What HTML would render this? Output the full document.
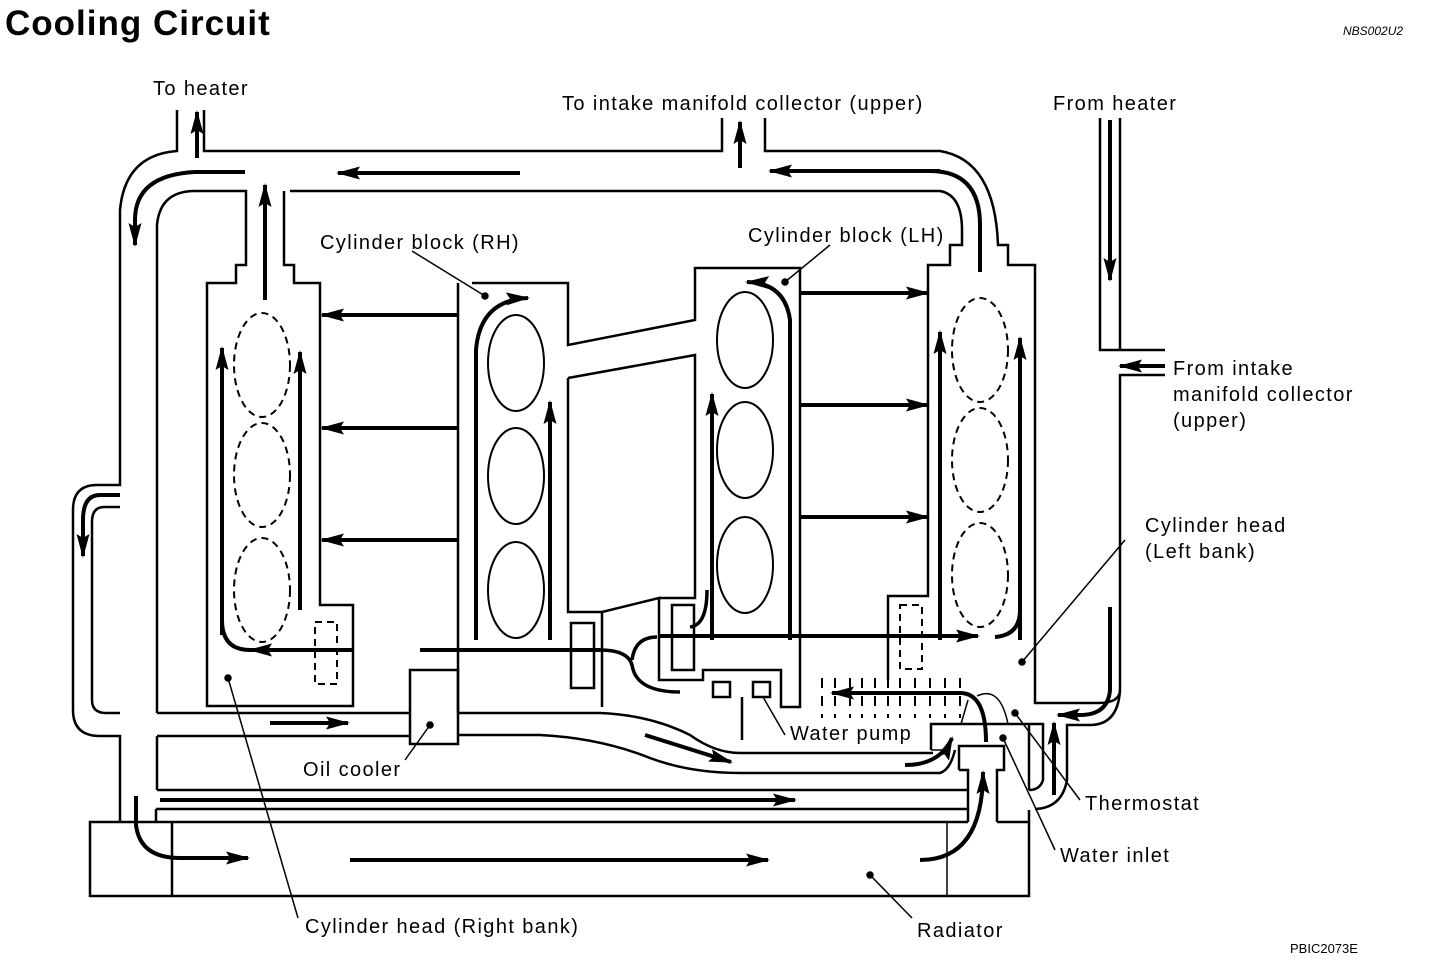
<!DOCTYPE html>
<html><head><meta charset="utf-8"><style>
html,body{margin:0;padding:0;background:#fff;}
svg{display:block;font-family:"Liberation Sans",sans-serif;}
text{font-size:20px;letter-spacing:1.4px;fill:#000;}
</style></head><body>
<svg width="1440" height="980" viewBox="0 0 1440 980" xmlns="http://www.w3.org/2000/svg">
<defs>
<marker id="a" markerWidth="24" markerHeight="13" refX="22" refY="6.5" orient="auto" markerUnits="userSpaceOnUse"><path d="M0,0 L24,6.5 L0,13 L4,6.5 z" fill="#000"/></marker>
</defs>
<text x="5" y="35" style="font-size:35px;font-weight:bold;letter-spacing:1px">Cooling Circuit</text>
<text x="1343" y="35" style="font-size:12px;font-style:italic;letter-spacing:0">NBS002U2</text>
<text x="1290" y="953" style="font-size:13px;letter-spacing:0">PBIC2073E</text>

<g fill="none" stroke="#000" stroke-width="2.5">
<path d="M177,110 V151 Q125,155 120,210 V485 H97 Q73,485 73,510 V710 Q73,736 100,736 H120 V822"/>
<path d="M120,507 H104 Q92,507 92,522 V700 Q92,713 106,713 H120"/>
<path d="M204,110 V151 H722 V118"/>
<path d="M765,118 V151 H940 Q995,160 998,245 H1008 V265 H1035 V703 H1098 Q1120,703 1120,690 V375 H1165"/>
<path d="M1100,118 V350 H1165 M1120,118 V350"/>
<path d="M157,713 V225 Q160,191 195,191 H246 V265 H236 V283 H207 V706 H353 V605 H320 V283 H294 V265 H284 V191"/>
<path d="M290,191 H940 Q962,195 962,230 V245 H950 V265 H928 V596 H888 V680"/>
<path d="M458,283 V713 M472,283 H568 V345 L695,320 V268 H800 V707 H781 V670 H703 V680 H659 V598 L602,612 V707"/>
<path d="M568,378 L695,355 V598 H659"/>
<path d="M568,378 V612 H602"/>
<path d="M157,713 H410 M157,736 H410 M157,736 V790"/>
<path d="M458,713 H600 Q650,715 690,735 Q715,753 740,753 H933"/>
<path d="M458,735 H540 Q600,738 650,758 Q690,773 740,773 H940 Q950,770 955,750"/>
<path d="M157,790 H968 M156,809 H968 M156,809 V822"/>
<rect x="410" y="670" width="48" height="74"/>
<path d="M968,822 H90 V896 H1029 V810"/>
<path d="M997,822 H1029"/>
<path d="M172,822 V896"/>
<path d="M947,822 V896" stroke-width="1.5"/>
<path d="M931,750 V724 H1029 V790 M1029,724 H1043 V780 Q1040,790 1029,790"/>
<path d="M1120,690 Q1118,725 1090,725 H1067 V780 Q1062,808 1035,809"/>
<path d="M959,770 V746 H1004 V770 H997 V822 M959,770 H968 V822"/>
<path d="M931,750 H945" stroke-width="1.5"/>
<path d="M977,696 Q1000,685 1008,724" stroke-width="1.5"/>
<path d="M961,724 L968,700" stroke-width="1.5"/>
<rect x="571" y="623" width="23" height="65"/>
<rect x="672" y="605" width="22" height="65"/>
<rect x="713" y="682" width="17" height="15"/>
<rect x="753" y="682" width="17" height="15"/>
<path d="M742,697 V740"/>
</g>
<g fill="none" stroke="#000" stroke-width="3.5">
<path d="M600,650 Q628,650 632,665 Q636,692 680,692"/>
<path d="M657,637 Q635,637 632,660"/>
<path d="M707,590 Q707,625 690,627"/>
</g>
<g fill="none" stroke="#000" stroke-width="2" stroke-dasharray="7,5">
<rect x="315" y="622" width="22" height="62"/>
<rect x="900" y="605" width="22" height="64"/>
<ellipse cx="262" cy="365" rx="28" ry="52"/><ellipse cx="262" cy="475" rx="28" ry="52"/><ellipse cx="262" cy="590" rx="28" ry="52"/>
<ellipse cx="980" cy="350" rx="28" ry="52"/><ellipse cx="980" cy="460" rx="28" ry="52"/><ellipse cx="980" cy="575" rx="28" ry="52"/>
<path d="M822,678 V718 M835,678 V718 M850,678 V718 M862,678 V718 M875,678 V718 M888,678 V718 M900,678 V718 M915,678 V718 M930,678 V718 M945,678 V718 M960,678 V718" stroke-dasharray="10,8"/>
</g>
<g fill="none" stroke="#000" stroke-width="2">
<ellipse cx="516" cy="363" rx="28" ry="48"/><ellipse cx="516" cy="476" rx="28" ry="48"/><ellipse cx="516" cy="590" rx="28" ry="48"/>
<ellipse cx="745" cy="340" rx="28" ry="48"/><ellipse cx="745" cy="450" rx="28" ry="48"/><ellipse cx="745" cy="565" rx="28" ry="48"/>
</g>
<g fill="none" stroke="#000" stroke-width="4" marker-end="url(#a)">
<path d="M197,158 V112"/>
<path d="M740,168 V122"/>
<path d="M265,300 V185"/>
<path d="M520,173 H338"/>
<path d="M980,272 V225 Q980,171 930,171" marker-end="none"/>
<path d="M940,171 H770"/>
<path d="M245,172 H195 Q135,175 135,220 V245"/>
<path d="M1110,120 V280"/>
<path d="M1165,366 H1120"/>
<path d="M458,315 H322"/>
<path d="M458,428 H322"/>
<path d="M458,540 H322"/>
<path d="M800,293 H928"/>
<path d="M800,405 H928"/>
<path d="M800,517 H928"/>
<path d="M222,635 V348"/>
<path d="M300,610 V352"/>
<path d="M940,640 V332"/>
<path d="M1020,640 V338"/>
<path d="M550,640 V402"/>
<path d="M712,640 V394"/>
<path d="M476,640 V350 Q480,300 528,298"/>
<path d="M790,640 V320 Q785,283 747,282"/>
<path d="M1020,610 Q1020,635 995,637" marker-end="none"/>
<path d="M222,620 Q222,650 250,650" marker-end="none"/>
<path d="M352,650 H250"/>
<path d="M600,650 H420" marker-end="none"/>
<path d="M660,636 H978"/>
<path d="M986,742 Q986,693 960,693 H832"/>
<path d="M270,723 H348"/>
<path d="M645,735 L731,762"/>
<path d="M905,765 Q940,765 952,738"/>
<path d="M160,800 H795"/>
<path d="M136,796 V825 Q140,858 180,858 H248"/>
<path d="M350,860 H768"/>
<path d="M920,860 Q983,860 983,772"/>
<path d="M1054,795 V723"/>
<path d="M1110,607 V690 Q1108,715 1080,715 H1058"/>
<path d="M120,495 H100 Q83,495 83,520 V556"/>
</g>
<g stroke="#000" stroke-width="1.5" fill="#000">
<path d="M412,251 L485,296"/><circle cx="485" cy="296" r="3"/>
<path d="M830,245 L785,282"/><circle cx="785" cy="282" r="3"/>
<path d="M1125,540 L1022,662"/><circle cx="1022" cy="662" r="3"/>
<path d="M228,678 L298,918"/><circle cx="228" cy="678" r="3"/>
<path d="M870,875 L912,918"/><circle cx="870" cy="875" r="3"/>
<path d="M405,760 L430,725"/><circle cx="430" cy="725" r="3"/>
<path d="M785,735 L763,697"/>
<path d="M1080,800 L1015,713"/><circle cx="1015" cy="713" r="3"/>
<path d="M1055,850 L1003,738"/><circle cx="1003" cy="738" r="3"/>
</g>
<text x="153" y="95">To heater</text>
<text x="562" y="110">To intake manifold collector (upper)</text>
<text x="1053" y="110">From heater</text>
<text x="320" y="249">Cylinder block (RH)</text>
<text x="748" y="242">Cylinder block (LH)</text>
<text x="1173" y="375">From intake</text>
<text x="1173" y="401">manifold collector</text>
<text x="1173" y="427">(upper)</text>
<text x="1145" y="532">Cylinder head</text>
<text x="1145" y="558">(Left bank)</text>
<text x="790" y="740">Water pump</text>
<text x="303" y="776">Oil cooler</text>
<text x="1085" y="810">Thermostat</text>
<text x="1060" y="862">Water inlet</text>
<text x="305" y="933">Cylinder head (Right bank)</text>
<text x="917" y="937">Radiator</text>
</svg>
</body></html>
